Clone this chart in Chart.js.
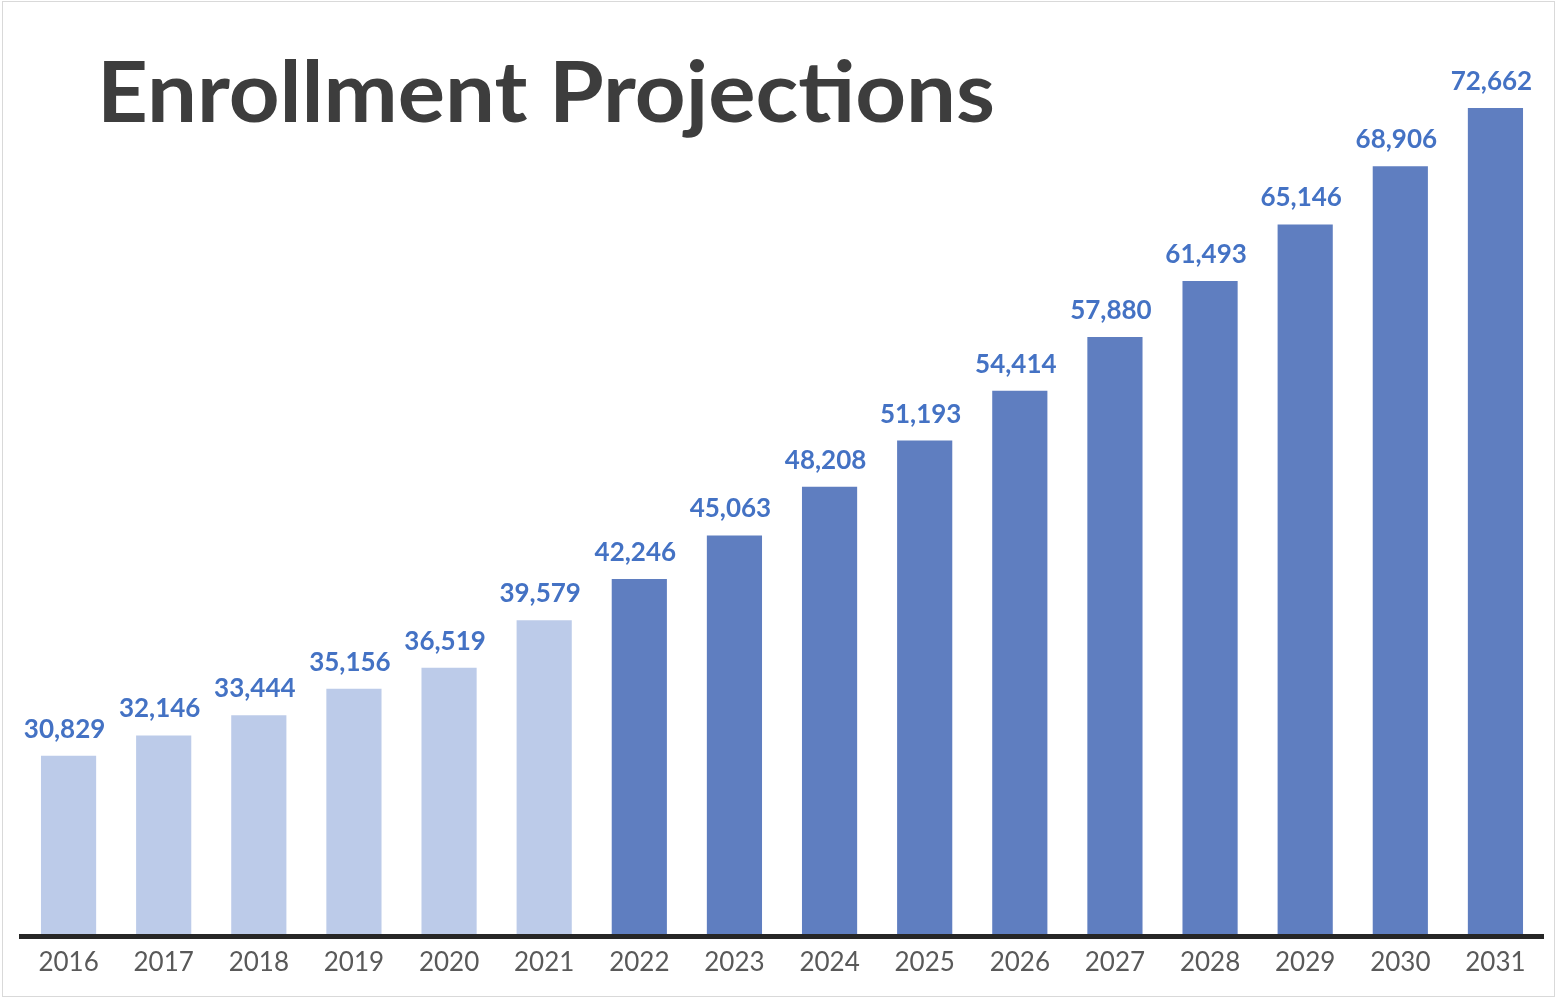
<!DOCTYPE html>
<html>
<head>
<meta charset="utf-8">
<title>Enrollment Projections</title>
<script src="https://cdn.jsdelivr.net/npm/chart.js@4.4.1/dist/chart.umd.min.js"></script>
<style>
  html, body { margin: 0; padding: 0; background: #fff; }
  #wrap { position: relative; width: 1558px; height: 1000px; overflow: hidden; }
  #frame { position: absolute; left: 2px; top: 1px; width: 1553px; height: 996px; border: 1px solid #d9d9d9; box-sizing: border-box; pointer-events: none; }
  #title { position: absolute; left: 97px; top: 48px; margin: 0; font: bold 84px Lato, sans-serif; line-height: 1; color: #3d3d3d; white-space: nowrap; transform-origin: 0 0; }
</style>
</head>
<body>
<div id="wrap">
  <canvas id="chart"></canvas>
  <h1 id="title">Enrollment Projections</h1>
  <div id="frame"></div>
</div>
<script>
const years = ['2016', '2017', '2018', '2019', '2020', '2021', '2022', '2023',
               '2024', '2025', '2026', '2027', '2028', '2029', '2030', '2031'];
const enrollment = [30829, 32146, 33444, 35156, 36519, 39579, 42246, 45063,
                    48208, 51193, 54414, 57880, 61493, 65146, 68906, 72662];
const lastActualYear = 2021;
const yMin = 19190;
const yMax = 79645;

const actualColor = '#bccbe9';
const projectedColor = '#5f7ec0';

// squeeze the title to the width it has in the picture
const titleEl = document.getElementById('title');
const titleW = titleEl.getBoundingClientRect().width;
titleEl.style.transform = 'scaleX(' + (898 / titleW) + ')';

// value labels above the bars
const valueLabels = {
    id: 'valueLabels',
    afterDatasetsDraw(chart) {
        const ctx = chart.ctx;
        const meta = chart.getDatasetMeta(0);
        ctx.save();
        ctx.font = 'bold 26px Lato';
        ctx.fillStyle = '#4472c4';
        ctx.textAlign = 'center';
        ctx.textBaseline = 'alphabetic';
        meta.data.forEach((bar, i) => {
            ctx.fillText(enrollment[i].toLocaleString('en-US'), bar.x - 4, bar.y - 18);
        });
        ctx.restore();
    }
};

const data = {
    labels: years,
    datasets: [{
        label: 'Enrollment',
        data: enrollment,
        backgroundColor: years.map(y => Number(y) <= lastActualYear ? actualColor : projectedColor),
        borderWidth: 0,
        barPercentage: 0.58,
        categoryPercentage: 1.0,
    }]
};

const config = {
    type: 'bar',
    data: data,
    options: {
        responsive: true,
        maintainAspectRatio: false,
        animation: false,
        layout: {
            padding: { left: 21, right: 15, top: 0, bottom: 0 }
        },
        plugins: {
            legend: { display: false },
            title: { display: false },
            tooltip: { enabled: false }
        },
        scales: {
            x: {
                grid: { display: false, drawTicks: false },
                border: { display: true, color: '#262626', width: 5, z: 1 },
                ticks: {
                    color: '#595959',
                    padding: 11,
                    font: { family: 'Lato', size: 26 }
                },
                afterFit: s => { s.height = 64; }
            },
            y: {
                display: false,
                min: yMin,
                max: yMax
            }
        }
    },
    plugins: [valueLabels]
};

var chart = new Chart(
    document.getElementById('chart'),
    config
);
</script>
</body>
</html>
